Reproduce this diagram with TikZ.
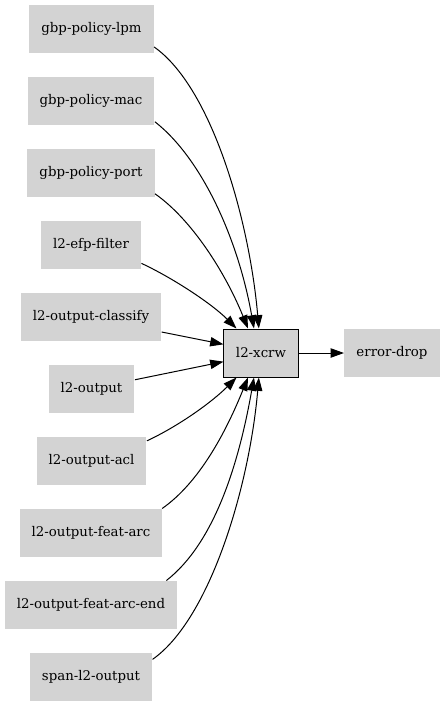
\documentclass[tikz,border=0pt]{standalone}
\usepackage{fontspec}
\setmainfont{DejaVu Serif}
\usetikzlibrary{arrows.meta}

\tikzset{every picture/.style={line width=0.75pt}}

\begin{document}
\begin{tikzpicture}[x=0.75pt,y=0.75pt,yscale=-1,xscale=1,
  gnode/.style={fill={rgb, 255:red, 211; green, 211; blue, 211 }, inner xsep=9pt, minimum height=36pt, minimum width=54pt, font=\fontsize{10}{12}\selectfont},
  gedge/.style={-{Triangle[length=10pt,width=7pt]}}]
%set diagram size
\useasboundingbox (0,0) rectangle (444,707);

% Text Node
\node [gnode] (lpm) at (91.5,29) {gbp-policy-lpm};
% Text Node
\node [gnode] (mac) at (91,101) {gbp-policy-mac};
% Text Node
\node [gnode] (port) at (91,173) {gbp-policy-port};
% Text Node
\node [gnode] (efp) at (91,245) {l2-efp-filter};
% Text Node
\node [gnode] (classify) at (91,317) {l2-output-classify};
% Text Node
\node [gnode] (output) at (91.5,389) {l2-output};
% Text Node
\node [gnode] (acl) at (91.5,461) {l2-output-acl};
% Text Node
\node [gnode] (arc) at (91,533) {l2-output-feat-arc};
% Text Node
\node [gnode] (arcend) at (91,605) {l2-output-feat-arc-end};
% Text Node
\node [gnode] (span) at (91,677) {span-l2-output};
% Text Node
\node [gnode, draw] (xcrw) at (261,353) {l2-xcrw};
% Text Node
\node [gnode] (drop) at (392,353) {error-drop};

%Curve Lines
\draw [gedge] (lpm.-16) .. controls +(35:70) and +(-95:110) .. (xcrw.95);
%Curve Lines
\draw [gedge] (mac.-18) .. controls +(38:60) and +(-100:90) .. (xcrw.106);
%Curve Lines
\draw [gedge] (port.-18) .. controls +(35:45) and +(-112:60) .. (xcrw.118);
%Curve Lines
\draw [gedge] (efp.-20) .. controls +(25:35) and +(-135:35) .. (xcrw.135);
%Straight Lines
\draw [gedge] (classify.-12) -- (xcrw.167);
%Straight Lines
\draw [gedge] (output.12) -- (xcrw.193);
%Curve Lines
\draw [gedge] (acl.20) .. controls +(-25:35) and +(135:35) .. (xcrw.225);
%Curve Lines
\draw [gedge] (arc.19) .. controls +(-35:45) and +(112:60) .. (xcrw.242);
%Curve Lines
\draw [gedge] (arcend.18) .. controls +(-38:60) and +(100:90) .. (xcrw.254);
%Curve Lines
\draw [gedge] (span.16) .. controls +(-35:70) and +(95:110) .. (xcrw.265);
%Straight Lines
\draw [gedge] (xcrw) -- (drop);

\end{tikzpicture}
\end{document}
